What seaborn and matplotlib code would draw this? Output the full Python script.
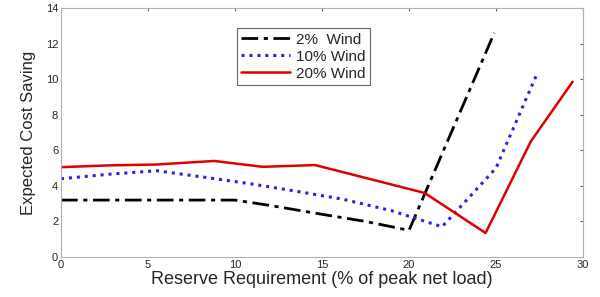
import numpy as np
import pandas as pd
import seaborn as sns
import matplotlib
matplotlib.use("Agg")
import matplotlib.pyplot as plt

# Values
x_2 = [0, 3, 6, 9, 10, 12, 15, 17.5, 20, 24.9]
y_2 = [3.2, 3.2, 3.2, 3.2, 3.2, 2.9, 2.4, 2.0, 1.5, 12.6]

x_10 = [0, 2.7, 5.5, 8.5, 11, 13.5, 16.2, 19, 21.9, 25.0, 27.4]
y_10 = [4.4, 4.65, 4.85, 4.45, 4.1, 3.7, 3.25, 2.6, 1.7, 5.0, 10.4]

x_20 = [0, 2.7, 5.5, 8.8, 11.6, 14.6, 20.9, 24.4, 27.0, 29.4]
y_20 = [5.05, 5.15, 5.2, 5.4, 5.07, 5.17, 3.6, 1.35, 6.5, 9.85]

labels = ["2%  Wind", "10% Wind", "20% Wind"]

df = pd.concat([
    pd.DataFrame({"x": x_2, "y": y_2, "series": labels[0]}),
    pd.DataFrame({"x": x_10, "y": y_10, "series": labels[1]}),
    pd.DataFrame({"x": x_20, "y": y_20, "series": labels[2]}),
])

sns.set_style("white")
plt.rcParams["font.family"] = ["Liberation Sans", "DejaVu Sans"]

fig = plt.figure(figsize=(6, 2.97), dpi=100)
ax = fig.add_axes([0.1017, 0.1347, 0.8700, 0.8383])

styles = {
    labels[0]: dict(color="black", linestyle=(0, (6, 2, 1.5, 2)), linewidth=2.0),
    labels[1]: dict(color="#3020e0", linestyle=(0, (1, 1.6)), linewidth=2.2),
    labels[2]: dict(color="#e00000", linestyle="-", linewidth=1.8),
}
for name in labels:
    sub = df[df["series"] == name]
    sns.lineplot(data=sub, x="x", y="y", ax=ax, label=name, sort=False, **styles[name])

ax.set_xlim(0, 30)
ax.set_ylim(0, 14)
ax.set_xticks(range(0, 31, 5))
ax.set_yticks(range(0, 15, 2))
ax.tick_params(direction="in", length=2, labelsize=8, top=True, right=True,
               pad=2, color="#606060")
for s in ax.spines.values():
    s.set_color("#b0b0b0")
    s.set_linewidth(0.8)

ax.set_xlabel("Reserve Requirement (% of peak net load)", fontsize=13, labelpad=1)
ax.set_ylabel("Expected Cost Saving", fontsize=12, labelpad=7)

leg = ax.legend(loc="upper left", bbox_to_anchor=(0.322, 0.95), fontsize=11,
                frameon=True, fancybox=False, handlelength=3.2, borderpad=0.3,
                labelspacing=0.2, handletextpad=0.4)
leg.get_frame().set_edgecolor("#404040")
leg.get_frame().set_linewidth(0.8)

fig.savefig("out.png", dpi=100)
